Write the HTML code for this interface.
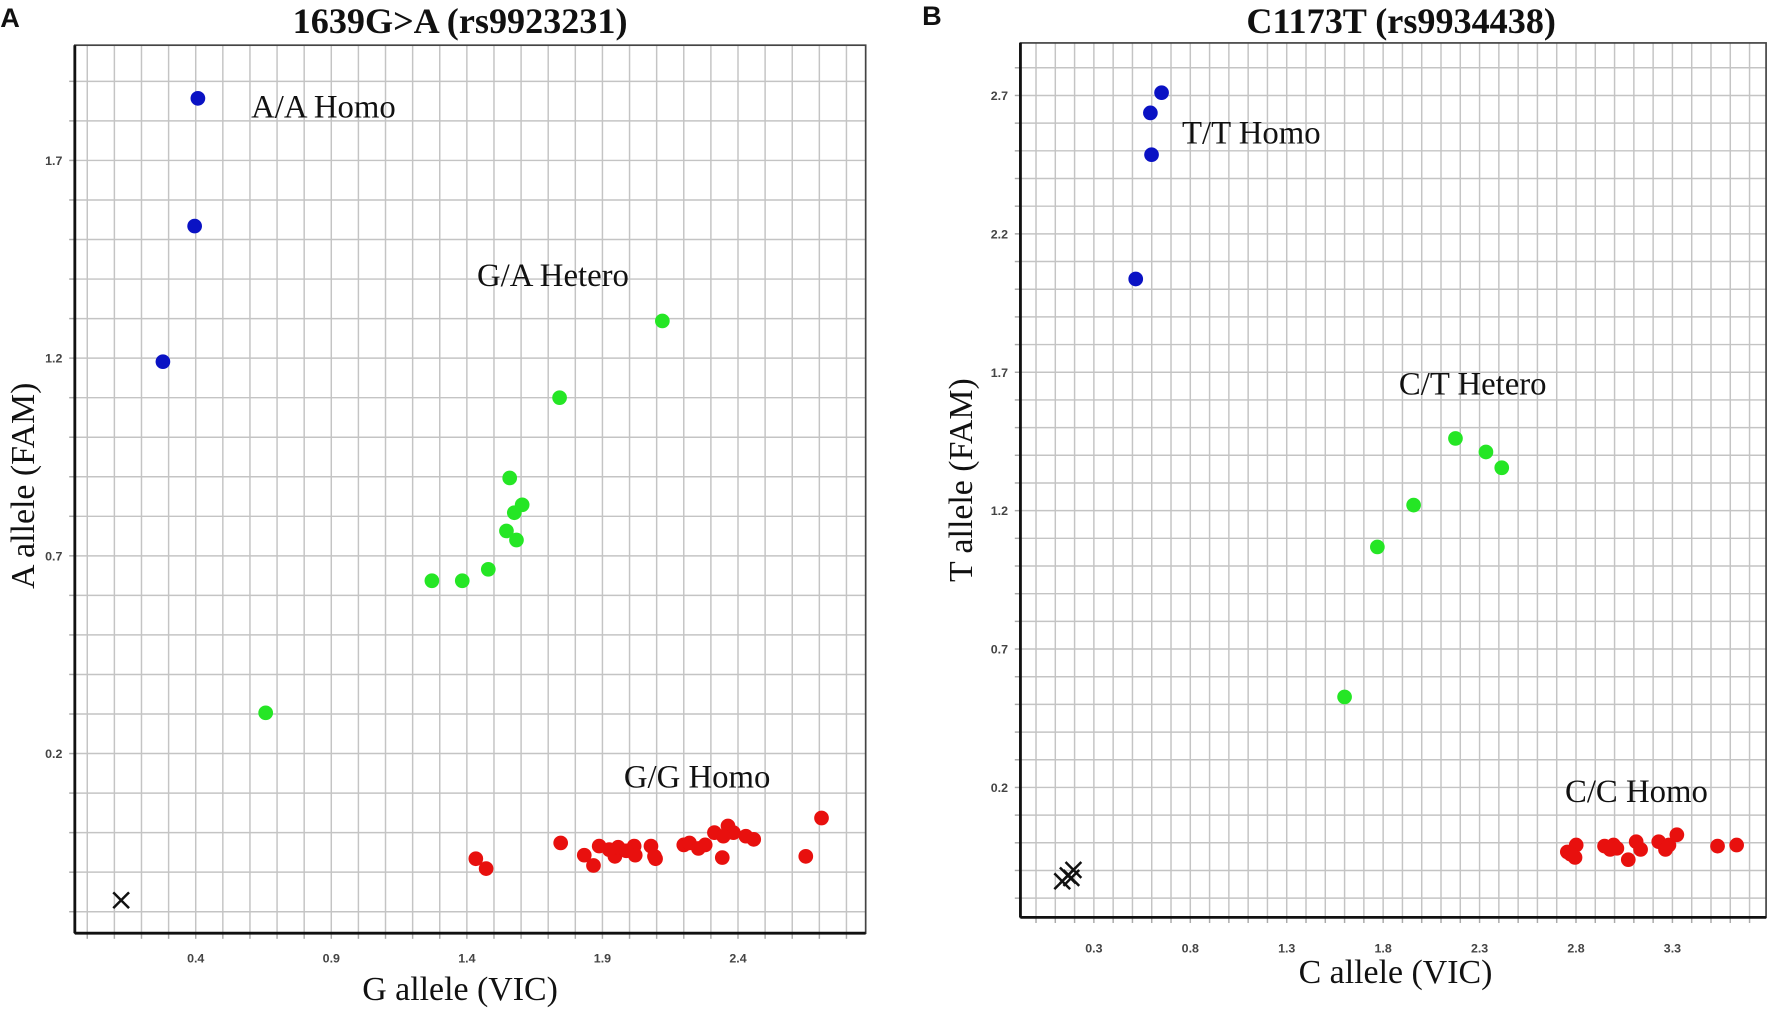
<!DOCTYPE html>
<html><head><meta charset="utf-8"><style>
html,body{margin:0;padding:0;background:#fff;}
svg{display:block;}
text{font-family:"Liberation Serif",serif;fill:#111;}
.tick{font-family:"Liberation Sans",sans-serif;font-size:11px;font-weight:bold;fill:#444;}
</style></head><body>
<svg id="chart" width="1772" height="1010" viewBox="0 0 1568 894" xmlns="http://www.w3.org/2000/svg"></svg>
<script>
// Panel A data
const aTicksX = [0.4, 0.9, 1.4, 1.9, 2.4];
const aTicksY = [0.2, 0.7, 1.2, 1.7];
const aBlueX = [0.408, 0.396, 0.279];
const aBlueY = [1.857, 1.534, 1.191];
const aGreenX = [2.121, 1.742, 1.558, 1.604, 1.575, 1.546, 1.583, 1.479, 1.383, 1.271, 0.658];
const aGreenY = [1.294, 1.100, 0.897, 0.829, 0.809, 0.763, 0.740, 0.666, 0.637, 0.637, 0.303];
const aRedX = [1.433, 1.471, 1.746, 1.867, 1.888, 1.946, 1.958, 2.017, 2.021, 2.079, 2.096, 2.200, 2.221, 2.254, 2.313, 2.342, 2.363, 2.383, 2.429, 2.458, 2.650, 2.708, 1.833, 1.925, 1.988, 2.092, 2.279, 2.346];
const aRedY = [-0.066, -0.091, -0.026, -0.083, -0.034, -0.060, -0.037, -0.034, -0.057, -0.034, -0.066, -0.031, -0.026, -0.040, 0.000, -0.063, 0.017, 0.000, -0.009, -0.017, -0.060, 0.037, -0.057, -0.043, -0.046, -0.060, -0.031, -0.009];
const aNoCallX = [0.125];
const aNoCallY = [-0.171];
// Panel B data
const bTicksX = [0.3, 0.8, 1.3, 1.8, 2.3, 2.8, 3.3];
const bTicksY = [0.2, 0.7, 1.2, 1.7, 2.2, 2.7];
const bBlueX = [0.651, 0.593, 0.599, 0.517];
const bBlueY = [2.710, 2.637, 2.486, 2.037];
const bGreenX = [2.175, 2.333, 2.415, 1.958, 1.770, 1.600];
const bGreenY = [1.461, 1.412, 1.355, 1.220, 1.069, 0.527];
const bRedX = [2.755, 2.801, 2.795, 2.948, 2.995, 3.012, 3.071, 3.112, 3.135, 3.229, 3.264, 3.282, 3.323, 3.534, 3.633, 2.772, 2.977];
const bRedY = [-0.033, -0.008, -0.053, -0.012, -0.008, -0.020, -0.061, 0.004, -0.024, 0.004, -0.024, -0.008, 0.029, -0.012, -0.008, -0.041, -0.024];
const bNoCallX = [0.165, 0.194, 0.136, 0.183];
const bNoCallY = [-0.118, -0.098, -0.139, -0.127];

const NS = "http://www.w3.org/2000/svg";
const svg = document.getElementById('chart');
function mk(tag, attrs, parent){const e=document.createElementNS(NS,tag);for(const k in attrs)e.setAttribute(k,attrs[k]);(parent||svg).appendChild(e);return e;}

function panel(cfg){
  const g = mk('g',{});
  
  
  const sx = v => cfg.x0px + (v - cfg.x0v) * cfg.kx;
  const sy = v => cfg.y0px - (v - cfg.y0v) * cfg.ky;
  const L=cfg.L,R=cfg.R,T=cfg.T,B=cfg.B;
  const grid = mk('g',{stroke:'#c4c4c4','stroke-width':1.3},g);
  
  
  for(let i=-40;i<60;i++){
    const v=cfg.x0v+i*0.1, p=sx(v);
    if(p>L+3&&p<R-2){mk('line',{x1:p,x2:p,y1:T,y2:B},grid);mk('line',{x1:p,x2:p,y1:B,y2:B+5,stroke:'#aaa'},grid);}
    const w=cfg.y0v+i*0.1, q=sy(w);
    if(q>T+3&&q<B-2){mk('line',{x1:L,x2:R,y1:q,y2:q},grid);mk('line',{x1:L-5,x2:L,y1:q,y2:q,stroke:'#aaa'},grid);}
  }
  const frame = mk('rect',{x:L,y:T,width:R-L,height:B-T,fill:'none',stroke:'#444','stroke-width':1.5},g);
  
  
  mk('line',{x1:L,x2:L,y1:T,y2:B,stroke:'#111','stroke-width':2.5},g);
  mk('line',{x1:L,x2:R,y1:B,y2:B,stroke:'#111','stroke-width':2.5},g);
  cfg.tx.forEach(v=>{
    const t=mk('text',{x:sx(v),y:cfg.txY,'text-anchor':'middle',class:'tick'},g);
    t.textContent=v.toFixed(1);
    
    
  });
  cfg.ty.forEach(v=>{
    const t=mk('text',{x:L-11,y:sy(v)+4,'text-anchor':'end',class:'tick'},g);
    t.textContent=v.toFixed(1);
    
    
  });
  cfg.series.forEach(s=>{
    s.x.forEach((v,i)=>{
      const c=mk('circle',{cx:sx(v),cy:sy(s.y[i]),r:6.5,fill:s.color},g);
      
      
    });
  });
  cfg.nx.forEach((v,i)=>{
    const px=sx(v),py=sy(cfg.ny[i]);
    const p=mk('path',{d:`M${px-7},${py-7}L${px+7},${py+7}M${px+7},${py-7}L${px-7},${py+7}`,stroke:'#111','stroke-width':2.2},g);
    
    
  });
}

panel({name:'panel-a', L:66,R:766,T:40,B:826, x0v:0.4,x0px:173,kx:240, y0v:0.2,y0px:667,ky:350, txY:852,
  tx:aTicksX, ty:aTicksY, nx:aNoCallX, ny:aNoCallY,
  series:[{name:'aa-homo-point',x:aBlueX,y:aBlueY,color:'#0a12c4'},{name:'ga-hetero-point',x:aGreenX,y:aGreenY,color:'#25e625'},{name:'gg-homo-point',x:aRedX,y:aRedY,color:'#e8100e'}]});
panel({name:'panel-b', L:903,R:1563,T:38,B:812, x0v:0.3,x0px:968,kx:170.7, y0v:0.2,y0px:697,ky:245, txY:843,
  tx:bTicksX, ty:bTicksY, nx:bNoCallX, ny:bNoCallY,
  series:[{name:'tt-homo-point',x:bBlueX,y:bBlueY,color:'#0a12c4'},{name:'ct-hetero-point',x:bGreenX,y:bGreenY,color:'#25e625'},{name:'cc-homo-point',x:bRedX,y:bRedY,color:'#e8100e'}]});

function txt(s,attrs,name){const t=mk('text',attrs);t.textContent=s;return t;}
txt('A',{x:0,y:24,'font-size':24,'font-weight':'bold',style:'font-family:Liberation Sans,sans-serif'},'panel-a-letter');
txt('B',{x:816,y:22,'font-size':24,'font-weight':'bold',style:'font-family:Liberation Sans,sans-serif'},'panel-b-letter');
txt('1639G>A (rs9923231)',{x:407,y:29,'text-anchor':'middle','font-size':32,'font-weight':'bold'},'panel-a-title');
txt('C1173T (rs9934438)',{x:1240,y:29,'text-anchor':'middle','font-size':32,'font-weight':'bold'},'panel-b-title');
txt('G allele (VIC)',{x:407,y:885,'text-anchor':'middle','font-size':30},'panel-a-x-axis-title');
txt('C allele (VIC)',{x:1235,y:870,'text-anchor':'middle','font-size':30},'panel-b-x-axis-title');
txt('A allele (FAM)',{x:0,y:0,'text-anchor':'middle','font-size':30,transform:'translate(30,430) rotate(-90)'},'panel-a-y-axis-title');
txt('T allele (FAM)',{x:0,y:0,'text-anchor':'middle','font-size':30,transform:'translate(860,425) rotate(-90)'},'panel-b-y-axis-title');
txt('A/A Homo',{x:222,y:104,'font-size':29},'aa-homo-label');
txt('G/A Hetero',{x:422,y:253,'font-size':29},'ga-hetero-label');
txt('G/G Homo',{x:552,y:697,'font-size':29},'gg-homo-label');
txt('T/T Homo',{x:1046,y:127,'font-size':29},'tt-homo-label');
txt('C/T Hetero',{x:1238,y:349,'font-size':29},'ct-hetero-label');
txt('C/C Homo',{x:1385,y:710,'font-size':29},'cc-homo-label');
</script>
</body></html>
